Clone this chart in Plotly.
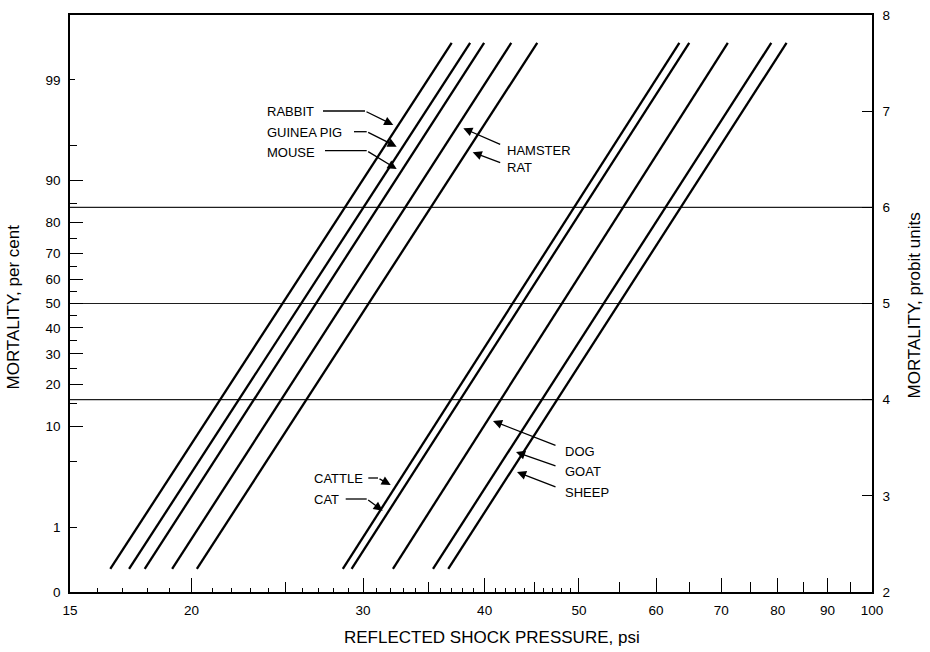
import math
from statistics import NormalDist
import plotly.graph_objects as go

# ---------------- data ----------------
species = ["Rabbit", "Guinea pig", "Mouse", "Hamster", "Rat",
           "Cat", "Cattle", "Dog", "Goat", "Sheep"]
psi_at_low_end = [16.5, 17.25, 17.9, 19.1, 20.25, 28.6, 29.2, 32.2, 35.4, 36.7]
psi_at_high_end = [37.0, 38.65, 39.95, 42.6, 45.3, 63.4, 64.9, 71.1, 78.8, 81.7]
probit_low_end = 2.24
probit_high_end = 7.71

reference_probits = [4, 5, 6]

x_labeled_ticks = [15, 20, 30, 40, 50, 60, 70, 80, 90, 100]
x_mid_ticks = [25, 35, 45, 55, 65, 75, 85, 95]
x_minor_ticks = [16, 17, 18, 19, 21, 22, 23, 24, 26, 27, 28, 29,
                 31, 32, 33, 34, 36, 37, 38, 39, 41, 42, 43, 44, 46, 47, 48, 49]

pct_labels = [0, 1, 10, 20, 30, 40, 50, 60, 70, 80, 90, 99]
pct_major_ticks = [10, 20, 30, 40, 50, 60, 70, 80, 90]
pct_minor_ticks = [1, 5, 15, 25, 35, 45, 55, 65, 75, 85, 95]
pct_short_ticks = [99]
probit_ticks = [2, 3, 4, 5, 6, 7, 8]

# ---------------- helpers ----------------
ND = NormalDist()


def pct_to_probit(p):
    return 2.0 if p == 0 else 5 + ND.inv_cdf(p / 100.0)


PLOT_L, PLOT_R, PLOT_T, PLOT_B = 70, 872, 15, 592
W, H = 930, 652


def paper(px, py):
    return ((px - PLOT_L) / (PLOT_R - PLOT_L), (PLOT_B - py) / (PLOT_B - PLOT_T))


FONT = "Liberation Sans, Arial, Helvetica, sans-serif"
XR = [math.log10(15), 2]
YR = [2, 8]

fig = go.Figure()

# reference horizontal lines (probit 4, 5, 6)
for p in reference_probits:
    fig.add_trace(go.Scatter(x=[15, 100], y=[p, p], mode="lines",
                             line=dict(color="#1e1e1e", width=1.1),
                             showlegend=False, hoverinfo="skip"))

# species probit lines
for name, lo, hi in zip(species, psi_at_low_end, psi_at_high_end):
    fig.add_trace(go.Scatter(x=[lo, hi], y=[probit_low_end, probit_high_end],
                             mode="lines", name=name,
                             line=dict(color="black", width=2.3),
                             showlegend=False))

# invisible traces to instantiate the overlay axes
for xa, ya in [("x2", "y"), ("x", "y2"), ("x", "y3"), ("x", "y4")]:
    fig.add_trace(go.Scatter(x=[20], y=[5], xaxis=xa, yaxis=ya, mode="markers",
                             marker=dict(opacity=0), showlegend=False,
                             hoverinfo="skip"))

tickfont = dict(family=FONT, size=13.5, color="black")

fig.update_layout(
    width=W, height=H,
    margin=dict(l=PLOT_L, r=W - PLOT_R, t=PLOT_T, b=H - PLOT_B, autoexpand=False),
    paper_bgcolor="white", plot_bgcolor="white",
    font=dict(family=FONT, color="black"),
    xaxis=dict(type="log", range=XR, tickmode="array",
               tickvals=x_labeled_ticks, ticktext=[str(v) for v in x_labeled_ticks],
               ticks="inside", ticklen=14, tickwidth=1, tickcolor="black",
               showline=True, linecolor="black", linewidth=1.6, mirror=True,
               showgrid=False, zeroline=False, tickfont=tickfont,
               ticklabelstandoff=5, automargin=False,
               minor=dict(tickmode="array", tickvals=x_minor_ticks, ticks="inside",
                          ticklen=4, tickwidth=1, tickcolor="black", showgrid=False)),
    xaxis2=dict(type="log", range=XR, overlaying="x", anchor="y", side="bottom",
                tickmode="array", tickvals=x_mid_ticks, ticks="inside", ticklen=10,
                tickwidth=1, tickcolor="black", showticklabels=False,
                showline=False, showgrid=False, zeroline=False, automargin=False),
    yaxis=dict(range=YR, tickmode="array",
               tickvals=[pct_to_probit(p) for p in pct_labels],
               ticktext=[str(p) for p in pct_labels],
               ticks="", showline=True, linecolor="black", linewidth=1.6,
               showgrid=False, zeroline=False, tickfont=tickfont,
               ticklabelstandoff=5, automargin=False),
    yaxis3=dict(range=YR, overlaying="y", anchor="x", side="left", tickmode="array",
                tickvals=[pct_to_probit(p) for p in pct_major_ticks],
                ticks="inside", ticklen=13, tickwidth=1, tickcolor="black",
                showticklabels=False, showline=False, showgrid=False, zeroline=False,
                automargin=False,
                minor=dict(tickmode="array",
                           tickvals=[pct_to_probit(p) for p in pct_minor_ticks],
                           ticks="inside", ticklen=7, tickwidth=1, tickcolor="black",
                           showgrid=False)),
    yaxis4=dict(range=YR, overlaying="y", anchor="x", side="left", tickmode="array",
                tickvals=[pct_to_probit(p) for p in pct_short_ticks],
                ticks="inside", ticklen=5, tickwidth=1, tickcolor="black",
                showticklabels=False, showline=False, showgrid=False, zeroline=False,
                automargin=False),
    yaxis2=dict(range=YR, overlaying="y", anchor="x", side="right", tickmode="array",
                tickvals=probit_ticks, ticktext=[str(v) for v in probit_ticks],
                ticks="inside", ticklen=10, tickwidth=1, tickcolor="black",
                showline=True, linecolor="black", linewidth=1.6,
                showgrid=False, zeroline=False, tickfont=tickfont,
                ticklabelstandoff=6, automargin=False),
)

# ---------------- axis titles ----------------
title_font = dict(family=FONT, size=17, color="black")
annotations = []
for text, (px, py), angle in [
    ("MORTALITY, per cent", (13, 307.5), -90),
    ("MORTALITY, probit units", (913.5, 306), -90),
    ("REFLECTED SHOCK PRESSURE, psi", (492, 637), 0),
]:
    x, y = paper(px, py)
    annotations.append(dict(text=text, x=x, y=y, xref="paper", yref="paper",
                            xanchor="center", yanchor="middle", textangle=angle,
                            showarrow=False, font=title_font))

# ---------------- species labels with arrows ----------------
# (label, text-left px, text-y px, tail segment start px or None, tail px, tip px)
label_specs = [
    ("RABBIT", 266, 111.5, 323, (365, 111), (393.3, 125)),
    ("GUINEA PIG", 266, 132.5, 354, (366.7, 131.7), (396.7, 146.7)),
    ("MOUSE", 266, 152.3, 325, (366.7, 150.7), (396.7, 169)),
    ("HAMSTER", 506, 150, None, (501.7, 145), (463.3, 128.3)),
    ("RAT", 506, 167.7, None, (501.7, 163.3), (472.7, 152.3)),
    ("CATTLE", 312.5, 478.3, 368.3, (378, 478), (390.7, 485)),
    ("CAT", 312.5, 499, 345.7, (366.7, 499), (382.7, 510.7)),
    ("DOG", 564, 451, None, (557, 446), (493, 421)),
    ("GOAT", 564, 471, None, (557, 466.5), (516, 452)),
    ("SHEEP", 564, 492, None, (557, 487.5), (517, 472)),
]
label_font = dict(family=FONT, size=13, color="black")
shapes = []
for text, tx, ty, seg_start, tail, tip in label_specs:
    x, y = paper(tx, ty)
    annotations.append(dict(text=text, x=x, y=y, xref="paper", yref="paper",
                            xanchor="left", yanchor="middle", showarrow=False,
                            font=label_font, borderpad=0))
    tipx, tipy = paper(*tip)
    annotations.append(dict(text="", x=tipx, y=tipy, xref="paper", yref="paper",
                            showarrow=True, axref="pixel", ayref="pixel",
                            ax=tail[0] - tip[0], ay=tail[1] - tip[1],
                            arrowhead=2, arrowsize=1.4, arrowwidth=1.3,
                            arrowcolor="black", standoff=0, startstandoff=0))
    if seg_start is not None:
        x0, y0 = paper(seg_start, tail[1])
        x1, y1 = paper(tail[0], tail[1])
        shapes.append(dict(type="line", xref="paper", yref="paper",
                           x0=x0, y0=y0, x1=x1, y1=y1,
                           line=dict(color="black", width=1.3)))

fig.update_layout(annotations=annotations, shapes=shapes)

# remove the default page margin so the figure sits at the window's top-left
fig.write_html("out.html",
               config={"displayModeBar": False},
               post_script="document.body.style.margin='0';"
                           "document.body.style.padding='0';")
